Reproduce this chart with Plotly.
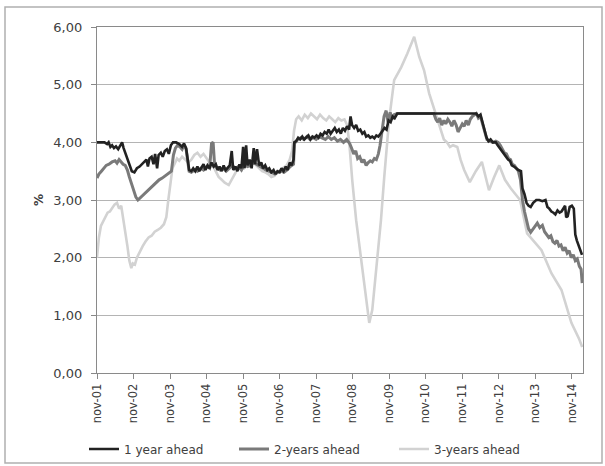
import plotly.graph_objects as go

# ---------------- data ----------------
names = ["1 year ahead", "2-years ahead", "3-years ahead"]
tick_dates = [f"{y}-11-01" for y in range(2001, 2015)]
tick_labels = [f"nov-{y % 100:02d}" for y in range(2001, 2015)]

dates1 = ["2001-11-01","2001-12-15","2002-01-15","2002-02-10","2002-02-25","2002-03-15","2002-04-01","2002-04-20",
"2002-05-10","2002-06-01","2002-06-20","2002-07-10","2002-07-25","2002-08-15","2002-09-05","2002-09-25","2002-10-15",
"2002-11-10","2002-12-05","2003-01-01","2003-01-25","2003-02-15","2003-03-10","2003-03-25","2003-04-10","2003-05-01",
"2003-05-20","2003-06-05","2003-06-25","2003-07-10","2003-08-01","2003-08-20","2003-09-10","2003-10-01","2003-10-20",
"2003-11-10","2003-12-01","2004-01-01","2004-02-01","2004-03-01","2004-03-20","2004-04-10","2004-04-25","2004-05-10",
"2004-06-01","2004-06-20","2004-07-10","2004-08-01","2004-08-20","2004-09-10","2004-10-01","2004-10-20","2004-11-10",
"2004-12-01","2004-12-20","2005-01-10","2005-02-01","2005-02-20","2005-03-10","2005-04-01","2005-04-20","2005-05-10",
"2005-06-01","2005-06-20","2005-07-10","2005-07-25","2005-08-15","2005-09-05","2005-09-25","2005-10-15","2005-11-01",
"2005-11-15","2005-12-01","2005-12-15","2006-01-05","2006-01-25","2006-02-15","2006-03-01","2006-03-20","2006-04-10",
"2006-05-01","2006-05-20","2006-06-10","2006-07-01","2006-07-20","2006-08-10","2006-09-01","2006-09-20","2006-10-10",
"2006-11-01","2006-11-20","2006-12-10","2007-01-01","2007-01-20","2007-02-10","2007-03-01","2007-03-20","2007-03-28",
"2007-04-15","2007-05-05","2007-05-25","2007-06-15","2007-07-05","2007-07-25","2007-08-15","2007-09-05","2007-09-25",
"2007-10-15","2007-11-05","2007-11-25","2007-12-15","2008-01-05","2008-01-25","2008-02-15","2008-03-05","2008-03-25",
"2008-04-15","2008-05-05","2008-05-25","2008-06-15","2008-07-05","2008-07-25","2008-08-15","2008-09-05","2008-09-25",
"2008-10-10","2008-10-25","2008-11-15","2008-12-05","2008-12-25","2009-01-15","2009-02-05","2009-02-25","2009-03-15",
"2009-04-05","2009-04-25","2009-05-15","2009-06-05","2009-06-25","2009-07-15","2009-08-05","2009-08-25","2009-09-15",
"2009-10-05","2009-10-25","2009-11-15","2009-12-05","2009-12-25","2010-01-20","2012-03-20","2012-04-10","2012-05-01",
"2012-05-20","2012-06-10","2012-07-01","2012-07-20","2012-08-10","2012-09-01","2012-10-01","2012-10-20","2012-11-10",
"2012-12-01","2012-12-20","2013-01-10","2013-02-01","2013-02-20","2013-03-10","2013-04-01","2013-04-20","2013-05-15",
"2013-06-10","2013-06-25","2013-07-15","2013-08-05","2013-08-25","2013-09-15","2013-10-10","2013-11-10","2013-12-10",
"2014-01-10","2014-02-10","2014-03-01","2014-03-20","2014-04-10","2014-05-01","2014-05-20","2014-06-10","2014-07-01",
"2014-07-20","2014-08-10","2014-08-25","2014-09-05","2014-09-20","2014-10-10","2014-11-01","2014-11-20","2014-12-05",
"2014-12-20","2015-01-10","2015-01-25","2015-02-10"]
vals1 = [4.00,4.00,4.00,3.97,4.00,3.92,3.95,3.90,
3.93,3.88,3.95,4.00,3.90,3.80,3.68,3.58,3.50,
3.48,3.55,3.58,3.62,3.66,3.70,3.58,3.72,3.75,
3.62,3.80,3.55,3.78,3.82,3.75,3.85,3.88,3.80,
3.95,4.00,4.00,3.97,3.92,3.98,3.90,3.70,3.52,
3.50,3.55,3.50,3.58,3.50,3.55,3.62,3.52,3.60,
3.55,3.65,3.58,3.62,3.52,3.58,3.50,3.60,3.52,
3.56,3.60,3.85,3.52,3.58,3.50,3.62,3.55,3.92,
3.55,3.95,3.60,3.70,3.55,3.90,3.62,3.88,3.60,
3.65,3.55,3.60,3.52,3.55,3.48,3.52,3.45,3.50,
3.48,3.55,3.50,3.58,3.52,3.65,3.60,3.70,4.00,
4.02,4.08,4.05,4.10,4.05,4.08,4.12,4.05,4.10,
4.08,4.12,4.08,4.15,4.12,4.18,4.15,4.22,4.15,
4.20,4.25,4.18,4.22,4.15,4.25,4.20,4.28,4.22,
4.45,4.30,4.25,4.30,4.20,4.22,4.15,4.18,4.10,
4.12,4.08,4.10,4.07,4.12,4.10,4.15,4.20,4.25,
4.22,4.38,4.35,4.45,4.42,4.50,4.50,4.45,4.48,
4.35,4.20,4.08,4.02,4.05,4.00,4.00,3.95,3.90,
3.85,3.80,3.75,3.70,3.68,3.60,3.58,3.55,3.52,
3.50,3.20,3.10,2.95,2.90,2.88,2.95,3.00,3.00,
2.98,3.00,2.88,2.85,2.80,2.78,2.75,2.82,2.78,
2.80,2.85,2.90,2.70,2.72,2.88,2.90,2.85,2.40,
2.30,2.20,2.10,2.05]

dates2 = ["2001-11-01","2001-11-20","2001-12-15","2002-01-10","2002-02-01","2002-03-01","2002-04-01","2002-05-01",
"2002-05-20","2002-06-10","2002-07-01","2002-07-20","2002-08-10","2002-09-01","2002-09-20","2002-10-10","2002-11-01",
"2002-11-25","2002-12-15","2003-01-15","2003-02-15","2003-03-15","2003-04-15","2003-05-15","2003-06-15","2003-07-15",
"2003-08-15","2003-09-15","2003-10-15","2003-11-15","2003-12-05","2003-12-25","2004-01-15","2004-02-10","2004-03-01",
"2004-03-20","2004-04-10","2004-04-25","2004-05-10","2004-06-01","2004-07-01","2004-08-01","2004-09-01","2004-10-01",
"2004-11-01","2004-12-01","2004-12-20","2005-01-05","2005-01-20","2005-02-15","2005-03-15","2005-04-15","2005-05-15",
"2005-06-15","2005-07-15","2005-08-15","2005-09-15","2005-10-15","2005-11-15","2005-12-15","2006-01-15","2006-02-15",
"2006-03-15","2006-04-15","2006-05-15","2006-06-15","2006-07-15","2006-08-15","2006-09-15","2006-10-15","2006-11-15",
"2006-12-15","2007-01-15","2007-02-15","2007-03-20","2007-03-28","2007-05-01","2007-06-01","2007-07-01","2007-08-01",
"2007-09-01","2007-10-01","2007-11-01","2007-12-01","2008-01-01","2008-02-01","2008-03-01","2008-04-01","2008-05-01",
"2008-06-01","2008-07-01","2008-08-01","2008-09-01","2008-10-01","2008-10-20","2008-11-10","2008-12-01","2008-12-20",
"2009-01-10","2009-02-01","2009-02-20","2009-03-15","2009-04-05","2009-04-25","2009-05-15","2009-06-05","2009-06-25",
"2009-07-15","2009-08-01","2009-08-20","2009-09-10","2009-10-01","2009-10-20","2009-11-10","2009-12-01","2009-12-20",
"2010-01-20","2011-01-20","2011-02-10","2011-03-01","2011-03-20","2011-04-10","2011-05-01","2011-05-20","2011-06-10",
"2011-07-01","2011-07-20","2011-08-10","2011-09-01","2011-09-20","2011-10-10","2011-11-01","2011-11-20","2011-12-10",
"2012-01-01","2012-01-20","2012-02-10","2012-03-01","2012-03-20","2012-04-10","2012-05-01","2012-05-25","2012-06-15",
"2012-07-05","2012-08-01","2012-09-01","2012-10-01","2012-10-25","2012-11-15","2012-12-05","2012-12-25","2013-01-15",
"2013-02-05","2013-02-25","2013-03-15","2013-04-05","2013-04-25","2013-05-15","2013-06-05","2013-06-25","2013-07-15",
"2013-08-05","2013-08-25","2013-09-15","2013-10-10","2013-11-01","2013-11-20","2013-12-15","2014-01-10","2014-02-01",
"2014-02-20","2014-03-15","2014-04-05","2014-04-25","2014-05-15","2014-06-05","2014-06-25","2014-07-15","2014-08-05",
"2014-08-25","2014-09-15","2014-10-05","2014-10-25","2014-11-15","2014-12-05","2014-12-25","2015-01-15","2015-02-01",
"2015-02-12"]
vals2 = [3.38,3.45,3.50,3.55,3.60,3.62,3.66,3.68,
3.64,3.70,3.65,3.62,3.60,3.52,3.40,3.28,3.15,
3.05,3.00,3.05,3.10,3.15,3.20,3.25,3.30,3.35,
3.38,3.42,3.45,3.50,3.78,3.90,3.95,3.92,3.88,
3.95,3.88,3.65,3.50,3.48,3.52,3.50,3.55,3.52,
3.58,3.55,3.98,4.00,3.60,3.55,3.52,3.55,3.50,
3.55,3.60,3.55,3.58,3.52,3.62,3.58,3.60,3.65,
3.62,3.58,3.55,3.52,3.50,3.48,3.45,3.48,3.50,
3.48,3.52,3.58,3.62,3.98,4.05,4.08,4.05,4.10,
4.05,4.08,4.05,4.10,4.08,4.05,4.10,4.05,4.08,
4.02,4.05,4.00,4.05,3.98,3.90,3.80,3.85,3.72,
3.75,3.65,3.70,3.60,3.65,3.68,3.66,3.72,3.70,
3.80,3.95,4.20,4.45,4.55,4.35,4.52,4.40,4.48,
4.50,4.50,4.40,4.35,4.42,4.30,4.38,4.32,4.40,
4.35,4.28,4.38,4.30,4.18,4.25,4.32,4.28,4.38,
4.30,4.40,4.45,4.48,4.50,4.42,4.45,4.30,4.15,
4.05,4.02,4.00,4.02,4.00,3.95,3.88,3.82,3.80,
3.72,3.70,3.62,3.60,3.55,3.50,3.35,3.00,2.80,
2.62,2.50,2.44,2.50,2.55,2.60,2.52,2.56,2.45,
2.40,2.35,2.38,2.28,2.25,2.30,2.20,2.22,2.12,
2.18,2.08,2.12,2.00,2.05,1.95,1.98,1.85,1.80,
1.56]

dates3 = ["2001-11-01","2001-11-20","2001-12-10","2002-01-01","2002-01-25","2002-02-15","2002-03-10","2002-04-01",
"2002-04-25","2002-05-20","2002-06-10","2002-07-01","2002-07-20","2002-08-10","2002-09-01","2002-09-20","2002-10-10",
"2002-10-25","2002-11-15","2002-12-05","2003-01-01","2003-02-01","2003-03-01","2003-04-01","2003-05-01","2003-06-01",
"2003-07-01","2003-08-01","2003-09-01","2003-09-25","2003-10-15","2003-11-05","2003-11-25","2003-12-15","2004-01-10",
"2004-02-01","2004-03-01","2004-04-01","2004-05-01","2004-06-01","2004-07-01","2004-08-01","2004-09-01","2004-10-01",
"2004-11-01","2004-12-01","2005-01-01","2005-02-01","2005-03-01","2005-04-01","2005-05-01","2005-06-10","2005-07-10",
"2005-08-10","2005-09-10","2005-10-10","2005-11-10","2005-12-10","2006-01-10","2006-02-10","2006-03-10","2006-04-10",
"2006-05-10","2006-06-10","2006-07-10","2006-08-10","2006-09-10","2006-10-10","2006-11-10","2006-12-10","2007-01-10",
"2007-02-10","2007-03-05","2007-03-25","2007-04-15","2007-05-10","2007-06-10","2007-07-10","2007-08-10","2007-09-10",
"2007-10-10","2007-11-10","2007-12-10","2008-01-10","2008-02-10","2008-03-10","2008-04-10","2008-05-10","2008-06-10",
"2008-07-10","2008-08-10","2008-09-05","2008-09-27","2008-10-27","2008-12-05","2009-01-25","2009-03-15","2009-04-15",
"2009-05-15","2009-06-25","2009-08-10","2009-09-12","2009-10-30","2009-12-20","2010-02-28","2010-05-01","2010-07-08",
"2010-08-28","2010-10-15","2010-12-05","2011-01-25","2011-04-05","2011-05-01","2011-06-01","2011-07-01","2011-08-01",
"2011-09-12","2011-10-15","2011-11-20","2012-01-15","2012-03-15","2012-05-15","2012-07-25","2012-09-15","2012-11-05",
"2013-01-01","2013-03-01","2013-06-01","2013-08-10","2014-01-01","2014-04-10","2014-07-20","2014-10-27","2015-01-10",
"2015-02-12"]
vals3 = [2.00,2.35,2.55,2.62,2.70,2.78,2.80,2.85,
2.92,2.95,2.85,2.90,2.70,2.45,2.20,1.95,1.82,
1.90,1.88,2.00,2.10,2.20,2.28,2.35,2.38,2.45,
2.48,2.52,2.58,2.70,3.00,3.30,3.55,3.62,3.72,
3.68,3.75,3.70,3.65,3.70,3.78,3.82,3.75,3.80,
3.72,3.65,3.60,3.50,3.40,3.35,3.30,3.26,3.35,
3.45,3.55,3.60,3.55,3.62,3.58,3.65,3.60,3.55,
3.50,3.48,3.45,3.40,3.42,3.48,3.52,3.55,3.60,
3.70,3.85,4.20,4.40,4.45,4.38,4.48,4.42,4.50,
4.45,4.40,4.48,4.42,4.38,4.45,4.40,4.35,4.42,
4.38,4.40,4.30,4.00,3.34,2.65,1.96,1.21,0.87,
1.09,1.78,2.65,3.40,4.38,5.08,5.30,5.54,5.83,
5.48,5.25,4.85,4.56,4.20,4.05,4.00,3.92,3.95,
3.92,3.70,3.52,3.31,3.50,3.66,3.17,3.40,3.60,
3.35,3.20,3.00,2.42,2.13,1.73,1.44,0.87,0.60,
0.45]

colors = ["#222222", "#7a7a7a", "#d2d2d2"]
widths = [2.6, 3.0, 2.6]

# ---------------- figure ----------------
W, H = 605, 466
L, R, T, B = 97, 22, 27, 93
pw, ph = W - L - R, H - T - B

def px_x(p):
    return (p - L) / pw

def px_y(p):
    return (H - B - p) / ph

fig = go.Figure()
series = [(dates1, vals1), (dates2, vals2), (dates3, vals3)]
legend_ids = ["legend", "legend2", "legend3"]
# draw light first so the dark line sits on top
for i in [2, 1, 0]:
    d, v = series[i]
    fig.add_trace(go.Scatter(x=d, y=v, mode="lines", name=names[i],
                             line=dict(color=colors[i], width=widths[i]),
                             legend=legend_ids[i], hoverinfo="skip"))

font = dict(family="DejaVu Sans, Verdana, sans-serif", color="#404040")
leg_common = dict(orientation="h", yanchor="middle", xanchor="left", y=px_y(449),
                  bgcolor="rgba(0,0,0,0)", font=dict(size=12, **font))

fig.update_layout(
    width=W, height=H,
    margin=dict(l=L, r=R, t=T, b=B, autoexpand=False),
    paper_bgcolor="white", plot_bgcolor="white",
    separators=",.",
    showlegend=True,
    legend=dict(x=px_x(84), **leg_common),
    legend2=dict(x=px_x(234), **leg_common),
    legend3=dict(x=px_x(394), **leg_common),
    xaxis=dict(type="date", range=["2001-11-01", "2015-02-20"],
               tickmode="array", tickvals=tick_dates, ticktext=tick_labels,
               tickangle=-90, ticks="outside", ticklen=5, tickcolor="#888",
               showgrid=False, showline=True, linecolor="#8a8a8a", linewidth=1.2,
               mirror=True, tickfont=dict(size=11.5, **font), zeroline=False,
               automargin=False),
    yaxis=dict(range=[0, 6], dtick=1, tick0=0, tickformat=".2f",
               ticks="outside", ticklen=5, tickcolor="#888",
               showgrid=True, gridcolor="#b4b4b4", gridwidth=1,
               showline=True, linecolor="#8a8a8a", linewidth=1.2, mirror=True,
               tickfont=dict(size=13, **font), zeroline=False,
               ticklabelstandoff=6, automargin=False),
    annotations=[dict(text="<b>%</b>", xref="paper", yref="paper",
                      x=px_x(39), y=px_y(200), xanchor="center", yanchor="middle",
                      textangle=-90, showarrow=False,
                      font=dict(size=12, **font))],
    shapes=[dict(type="rect", xref="paper", yref="paper",
                 x0=px_x(5), x1=px_x(602), y0=px_y(463), y1=px_y(7),
                 line=dict(color="#b0b0b0", width=1.5), layer="below")],
)

fig.write_html("out.html")
